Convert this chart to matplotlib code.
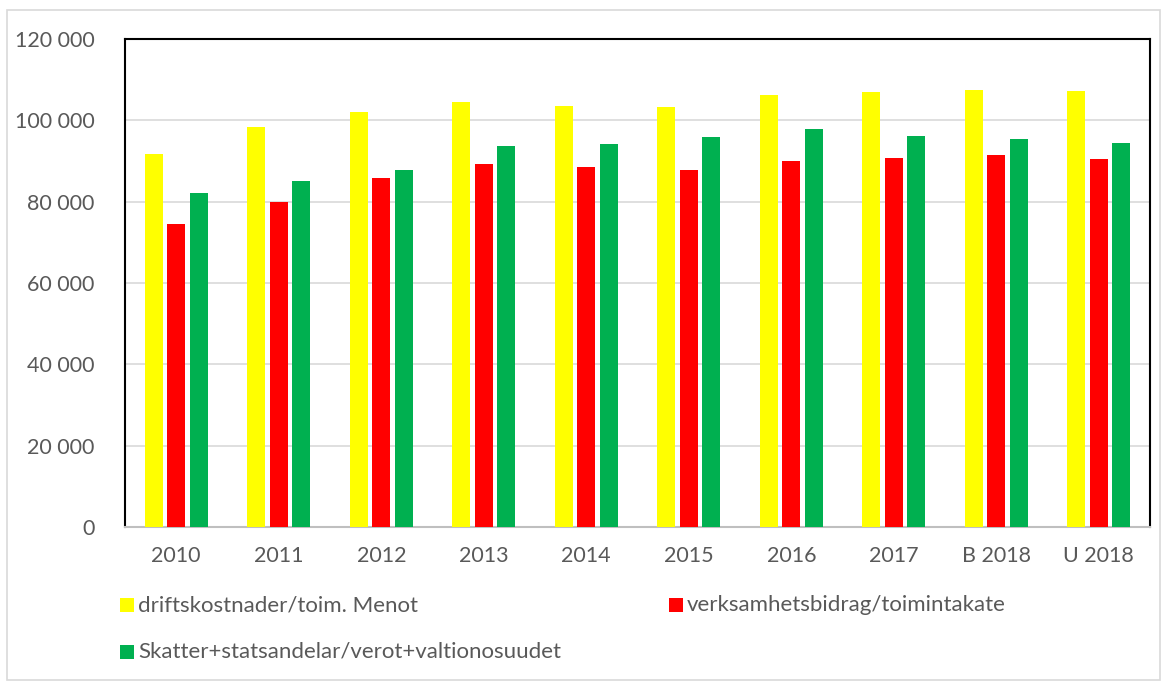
import matplotlib
matplotlib.use("Agg")
import matplotlib.pyplot as plt
import numpy as np
from matplotlib.patches import Rectangle
from matplotlib.ticker import FuncFormatter

categories = ["2010", "2011", "2012", "2013", "2014", "2015", "2016", "2017", "B 2018", "U 2018"]
driftskostnader = [91700, 98350, 101950, 104400, 103500, 103350, 106130, 106970, 107460, 107120]
verksamhetsbidrag = [74600, 79950, 85860, 89140, 88500, 87900, 90120, 90790, 91450, 90540]
skatter = [82100, 85050, 87760, 93740, 94240, 95960, 97860, 96210, 95300, 94410]
series_labels = ["driftskostnader/toim. Menot",
                 "verksamhetsbidrag/toimintakate",
                 "Skatter+statsandelar/verot+valtionosuudet"]
colors = ["#FFFF00", "#FF0000", "#00B050"]

plt.rcParams['font.family'] = ['Lato', 'DejaVu Sans']
text_color = "#595959"

W, H = 1168, 684
fig = plt.figure(figsize=(W / 100, H / 100), dpi=100)
ax = fig.add_axes([125 / W, 1 - 527 / H, (1150 - 125) / W, (527 - 39) / H])

x = np.arange(len(categories))
bw = 0.175
off = 0.22
for i, (vals, c) in enumerate(zip([driftskostnader, verksamhetsbidrag, skatter], colors)):
    ax.bar(x + (i - 1) * off, vals, width=bw, color=c, zorder=3)

ax.set_xlim(-0.5, len(categories) - 0.5)
ax.set_ylim(0, 120000)
ax.set_yticks(np.arange(0, 120001, 20000))
ax.yaxis.set_major_formatter(FuncFormatter(lambda v, p: f"{int(v):,}".replace(",", " ")))
ax.set_xticks(x)
ax.set_xticklabels(categories)
ax.grid(axis='y', color="#D9D9D9", linewidth=1.2, zorder=0)
ax.tick_params(axis='both', length=0, labelsize=15.5, labelcolor=text_color)
ax.tick_params(axis='y', pad=22)
ax.tick_params(axis='x', pad=14)
for s in ['left', 'top', 'right']:
    ax.spines[s].set_color('black')
    ax.spines[s].set_linewidth(1.5)
ax.spines['bottom'].set_color('#BFBFBF')
ax.spines['bottom'].set_linewidth(1.5)

# legend (manual placement)
leg_pos = [(120, 605), (669, 605), (120, 652)]
for (lx, ly), lab, c in zip(leg_pos, series_labels, colors):
    fig.add_artist(Rectangle((lx / W, 1 - (ly + 7) / H), 14 / W, 14 / H,
                             transform=fig.transFigure, facecolor=c, edgecolor='none'))
    fig.text((lx + 18) / W, 1 - ly / H, lab, fontsize=16, color=text_color,
             va='center', ha='left')

# outer border
fig.add_artist(Rectangle((7 / W, 4 / H), (1160 - 7) / W, (680 - 10) / H,
                         transform=fig.transFigure, facecolor='none',
                         edgecolor='#D9D9D9', linewidth=1.2))

fig.savefig("out.png", dpi=100)
